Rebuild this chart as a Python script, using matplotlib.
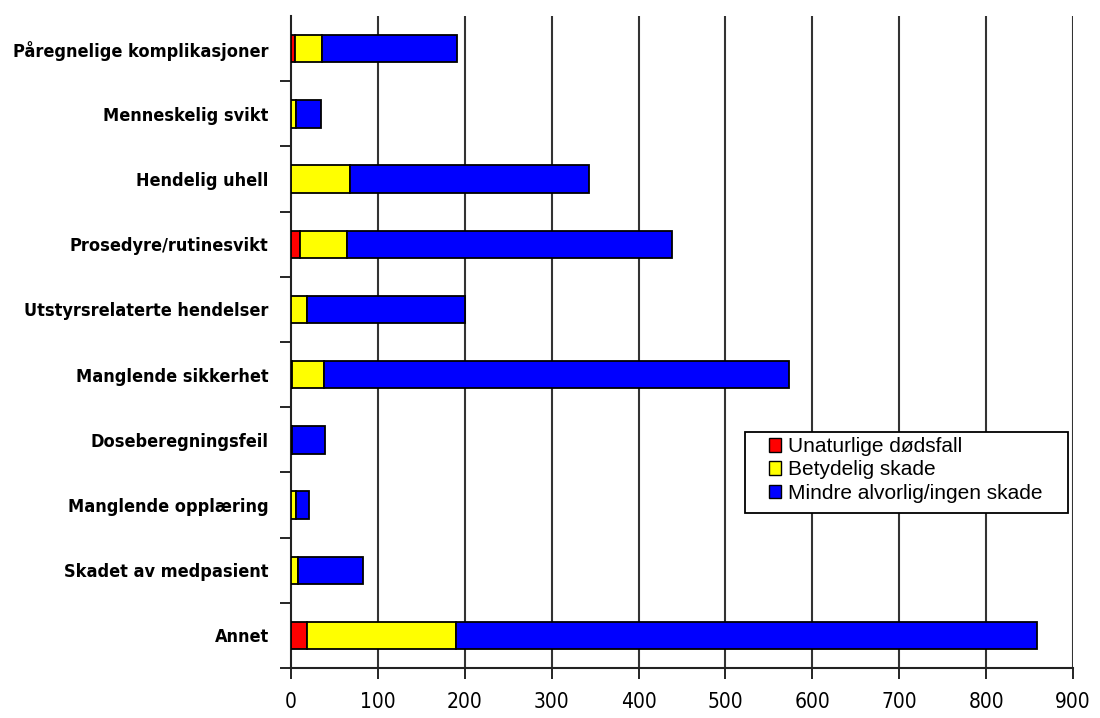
import numpy as np
import matplotlib.pyplot as plt
from matplotlib import font_manager
from matplotlib.patches import Rectangle
from matplotlib.ticker import FixedLocator

kategorier = ['Påregnelige komplikasjoner', 'Menneskelig svikt', 'Hendelig uhell',
              'Prosedyre/rutinesvikt', 'Utstyrsrelaterte hendelser', 'Manglende sikkerhet',
              'Doseberegningsfeil', 'Manglende opplæring', 'Skadet av medpasient', 'Annet']
dodsfall = [5, 0, 0, 10, 0, 1, 1, 0, 0, 18]
betydelig = [31, 6, 68, 54, 18, 37, 0, 6, 8, 172]
mindre = [155, 29, 275, 374, 182, 535, 38, 15, 75, 668]
serier = ['Unaturlige dødsfall', 'Betydelig skade', 'Mindre alvorlig/ingen skade']
farger = ['#ff0000', '#ffff00', '#0000ff']
xticks = [0, 100, 200, 300, 400, 500, 600, 700, 800, 900]

# smal skrift til aksetekstene hvis den finnes
har_condensed = any('Condensed' in f.fname and 'DejaVu' in f.name
                    for f in font_manager.fontManager.ttflist)
if har_condensed:
    ytxt = dict(family='DejaVu Sans', fontstretch='condensed', fontweight='bold', fontsize=13)
    xtxt = dict(family='DejaVu Sans', fontstretch='condensed', fontsize=15)
else:
    ytxt = dict(family='DejaVu Sans', fontweight='bold', fontsize=11.5)
    xtxt = dict(family='DejaVu Sans', fontsize=13.5)

fig = plt.figure(figsize=(11, 7.18), dpi=100)
ax = fig.add_axes([0.2645, 0.0696, 0.711, 0.908])

y = np.arange(len(kategorier))
venstre = np.zeros(len(kategorier))
for verdier, navn, farge in zip([dodsfall, betydelig, mindre], serier, farger):
    ax.barh(y, verdier, left=venstre, height=0.42, color=farge,
            edgecolor='black', linewidth=1.3, label=navn, zorder=3)
    venstre += np.array(verdier)

ax.set_ylim(len(kategorier) - 0.5, -0.5)
ax.set_xlim(0, 900)

# vertikale rutenettlinjer for hver 100
for v in xticks[1:]:
    ax.axvline(v, color='#333333', linewidth=1.5, zorder=1)

ax.set_xticks(xticks)
ax.set_xticklabels([str(v) for v in xticks], **xtxt)
ax.tick_params(axis='x', length=8, width=1.2, direction='out', pad=9)

ax.set_yticks(y)
ax.set_yticklabels(kategorier, **ytxt)
ax.tick_params(axis='y', which='major', length=0, pad=16)
ax.yaxis.set_minor_locator(FixedLocator(np.arange(0.5, len(kategorier), 1.0)))
ax.tick_params(axis='y', which='minor', length=8, width=1.2, direction='out')

for s in ['top', 'right']:
    ax.spines[s].set_visible(False)
for s in ['left', 'bottom']:
    ax.spines[s].set_linewidth(1.5)
    ax.spines[s].set_color('#222222')

# tegnforklaring med egen ramme
ramme = Rectangle((0.581, 0.238), 0.413, 0.124, transform=ax.transAxes,
                  facecolor='white', edgecolor='black', linewidth=1.3,
                  zorder=4.5, clip_on=False)
ax.add_patch(ramme)
leg = ax.legend(loc='upper left', bbox_to_anchor=(0.611, 0.354), frameon=False,
                prop={'family': 'Liberation Sans', 'size': 15},
                handlelength=0.6, handleheight=0.6, handletextpad=0.3,
                labelspacing=0.2, borderpad=0, borderaxespad=0)
leg.set_zorder(5)
for h in leg.legend_handles:
    h.set_linewidth(1.0)

fig.savefig('out.png', dpi=100)
